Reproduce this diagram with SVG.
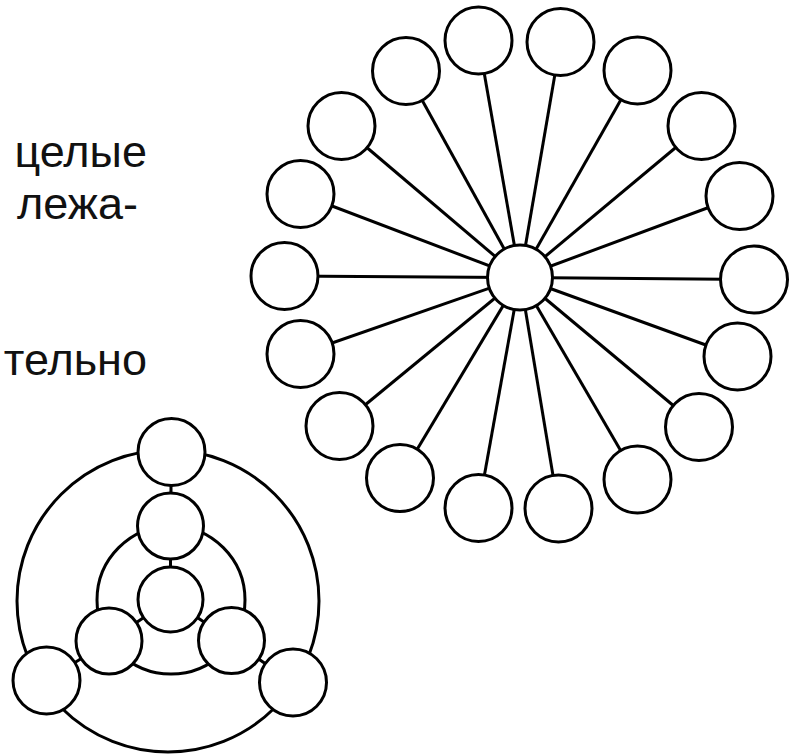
<svg xmlns="http://www.w3.org/2000/svg" width="798" height="754" viewBox="0 0 798 754">
<style>
.n{fill:#fff;stroke:#000;stroke-width:3}
.c line{stroke:#000;stroke-width:3}
.ring{fill:none;stroke:#000;stroke-width:3}
.t{font-family:"Liberation Sans",Arial,sans-serif;font-size:45px;fill:#111}
</style>
<rect width="798" height="754" fill="#fff"/>
<g id="text">
<text class="t" x="147" y="167" text-anchor="end">целые</text>
<text class="t" x="138" y="219" text-anchor="end">лежа-</text>
<text class="t" x="147" y="375" text-anchor="end">тельно</text>
</g>
<g id="connectors" class="c">
<line x1="520" y1="277.5" x2="754" y2="279.5"/>
<line x1="520" y1="277.5" x2="737.5" y2="356.5"/>
<line x1="520" y1="277.5" x2="699" y2="427"/>
<line x1="520" y1="277.5" x2="637.5" y2="479.5"/>
<line x1="520" y1="277.5" x2="558.5" y2="508.5"/>
<line x1="520" y1="277.5" x2="478.5" y2="508"/>
<line x1="520" y1="277.5" x2="400" y2="478"/>
<line x1="520" y1="277.5" x2="339.5" y2="426"/>
<line x1="520" y1="277.5" x2="300.5" y2="354"/>
<line x1="520" y1="277.5" x2="284.5" y2="276"/>
<line x1="520" y1="277.5" x2="300.5" y2="194"/>
<line x1="520" y1="277.5" x2="341.5" y2="126"/>
<line x1="520" y1="277.5" x2="406" y2="71"/>
<line x1="520" y1="277.5" x2="478.5" y2="40.5"/>
<line x1="520" y1="277.5" x2="560.5" y2="42"/>
<line x1="520" y1="277.5" x2="637.5" y2="70.5"/>
<line x1="520" y1="277.5" x2="701.5" y2="126"/>
<line x1="520" y1="277.5" x2="739.5" y2="196"/>
<line x1="171.5" y1="452" x2="170.5" y2="526"/>
<line x1="170.5" y1="526" x2="170.5" y2="599.5"/>
<line x1="170.5" y1="599.5" x2="109" y2="641"/>
<line x1="170.5" y1="599.5" x2="231.5" y2="640.5"/>
<line x1="109" y1="641" x2="46.5" y2="680.5"/>
<line x1="231.5" y1="640.5" x2="293" y2="682.5"/>
<circle class="ring" cx="168" cy="601" r="151"/>
<circle class="ring" cx="171" cy="600" r="74"/>
</g>
<g id="star-center"><circle class="n" cx="520" cy="277.5" r="32.5"/></g>
<g id="s0"><circle class="n" cx="754" cy="279.5" r="33.5"/></g>
<g id="s20"><circle class="n" cx="737.5" cy="356.5" r="33.5"/></g>
<g id="s40"><circle class="n" cx="699" cy="427" r="33.5"/></g>
<g id="s60"><circle class="n" cx="637.5" cy="479.5" r="33.5"/></g>
<g id="s80"><circle class="n" cx="558.5" cy="508.5" r="33.5"/></g>
<g id="s100"><circle class="n" cx="478.5" cy="508" r="33.5"/></g>
<g id="s120"><circle class="n" cx="400" cy="478" r="33.5"/></g>
<g id="s140"><circle class="n" cx="339.5" cy="426" r="33.5"/></g>
<g id="s160"><circle class="n" cx="300.5" cy="354" r="33.5"/></g>
<g id="s180"><circle class="n" cx="284.5" cy="276" r="33.5"/></g>
<g id="s200"><circle class="n" cx="300.5" cy="194" r="33.5"/></g>
<g id="s220"><circle class="n" cx="341.5" cy="126" r="33.5"/></g>
<g id="s240"><circle class="n" cx="406" cy="71" r="33.5"/></g>
<g id="s260"><circle class="n" cx="478.5" cy="40.5" r="33.5"/></g>
<g id="s280"><circle class="n" cx="560.5" cy="42" r="33.5"/></g>
<g id="s300"><circle class="n" cx="637.5" cy="70.5" r="33.5"/></g>
<g id="s320"><circle class="n" cx="701.5" cy="126" r="33.5"/></g>
<g id="s340"><circle class="n" cx="739.5" cy="196" r="33.5"/></g>
<g id="r-top"><circle class="n" cx="171.5" cy="452" r="33.5"/></g>
<g id="r-mid"><circle class="n" cx="170.5" cy="526" r="33"/></g>
<g id="r-center"><circle class="n" cx="170.5" cy="599.5" r="32.5"/></g>
<g id="r-left"><circle class="n" cx="109" cy="641" r="33"/></g>
<g id="r-right"><circle class="n" cx="231.5" cy="640.5" r="33"/></g>
<g id="r-bl"><circle class="n" cx="46.5" cy="680.5" r="33.5"/></g>
<g id="r-br"><circle class="n" cx="293" cy="682.5" r="33.5"/></g>
</svg>
